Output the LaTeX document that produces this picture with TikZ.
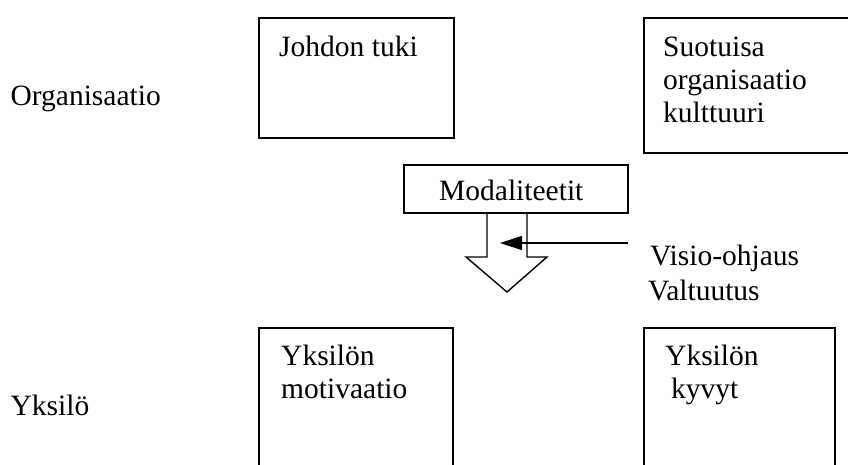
\documentclass[tikz,border=0pt]{standalone}
\usepackage{fontspec}
\setmainfont{Liberation Serif}
\usetikzlibrary{arrows.meta}
\begin{document}
\begin{tikzpicture}[x=1pt,y=-1pt,
  box/.style={draw, line width=1.6pt, inner sep=0pt, anchor=north west},
  lbl/.style={font=\fontsize{29.5}{34}\selectfont, inner sep=0pt, anchor=base west},
  hollow/.style={draw, line width=1.4pt, line join=miter},
  pointer/.style={line width=1.1pt, -{Triangle[length=22pt,width=14pt]}}]
\useasboundingbox (0,0) rectangle (848,464);
% boxes
\node[box, minimum width=195pt, minimum height=120pt] (johdon) at (258,17) {};
\node[box, minimum width=215pt, minimum height=135pt] (suot) at (643,17) {};
\node[box, minimum width=224pt, minimum height=48pt] (mod) at (403,164) {};
\node[box, minimum width=194pt, minimum height=170pt] (motiv) at (258,327) {};
\node[box, minimum width=191pt, minimum height=170pt] (kyvyt) at (643,327) {};
% texts
\node[lbl, anchor=base east] (org) at (161,105) {Organisaatio};
\path (org.base west) ++(0,310) node[lbl] (yks) {Yksilö};
\node[lbl] (t1) at (279,56) {Johdon tuki};
\node[lbl] (t2a) at (663,56) {Suotuisa};
\node[lbl] (t2b) at (663,89) {organisaatio};
\node[lbl] (t2c) at (663,122) {kulttuuri};
\node[lbl] (t3) at (439,200) {Modaliteetit};
\node[lbl] (t4a) at (281,365) {Yksilön};
\node[lbl] (t4b) at (281,398) {motivaatio};
\node[lbl] (t5a) at (665,365) {Yksilön};
\node[lbl] (t5b) at (671,398) {kyvyt};
\node[lbl] (v1) at (650,265) {Visio-ohjaus};
\node[lbl] (v2) at (648,300) {Valtuutus};
% hollow arrow
\draw[hollow] (487,212) -- (487,257) -- (466,257) -- (507,292) -- (547,257) -- (527,257) -- (527,212);
% pointer arrow
\coordinate (pstart) at (628,243);
\coordinate (pend) at (500,243);
\draw[pointer] (pstart) -- (pend);
\end{tikzpicture}
\end{document}
